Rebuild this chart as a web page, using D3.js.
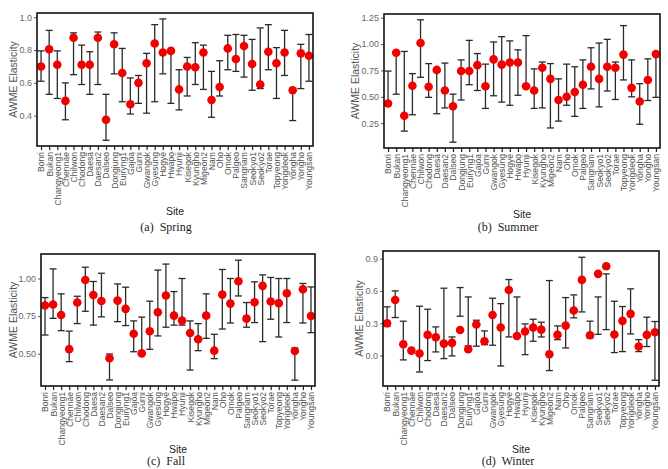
<!DOCTYPE html>
<html><head><meta charset="utf-8">
<script src="https://cdn.jsdelivr.net/npm/d3@7"></script>
<style>
html,body{margin:0;padding:0;background:#fff;}
svg{display:block;}
</style></head>
<body>
<script>
const sites = ["Bonri","Bukan","Changyeong1","Chennae","Chilwon","Chodong","Daesa","Daesan2","Dalseo","Dongjung","Euiryng1","Gajoa","Gumi","Gwangok","Gyesung","Hogye","Hwapo","Hyunji","Kisegok","Kyungho","Migeon2","Nam","Oho","Omok","Palgeo","Sangnam","Seokyo1","Seokyo2","Torae","Topyeong","Yongdeok","Yongha","Yongho","Youngsan"];

const springMean = [0.70,0.805,0.71,0.49,0.875,0.71,0.71,0.875,0.375,0.835,0.66,0.47,0.60,0.72,0.84,0.785,0.795,0.56,0.70,0.695,0.785,0.495,0.575,0.81,0.745,0.825,0.715,0.59,0.79,0.72,0.785,0.555,0.78,0.765];
const springHigh = [0.795,0.92,0.795,0.60,0.905,0.83,0.79,0.91,0.53,0.905,0.81,0.63,0.645,0.78,0.955,0.99,0.80,0.68,0.755,0.845,0.83,0.67,0.735,0.89,0.895,0.89,0.865,0.935,0.955,0.815,0.92,0.56,0.835,0.895];
const springLow  = [0.61,0.53,0.505,0.375,0.65,0.59,0.53,0.59,0.25,0.655,0.485,0.41,0.475,0.415,0.485,0.655,0.475,0.435,0.52,0.59,0.56,0.39,0.52,0.68,0.67,0.635,0.555,0.565,0.68,0.505,0.645,0.37,0.565,0.61];

const summerMean = [0.437,0.918,0.32,0.605,1.01,0.595,0.755,0.56,0.41,0.745,0.745,0.80,0.60,0.855,0.805,0.825,0.825,0.60,0.56,0.775,0.67,0.47,0.50,0.545,0.615,0.785,0.67,0.785,0.775,0.90,0.585,0.455,0.66,0.905];
const summerHigh = [0.744,0.925,0.93,0.72,1.23,0.815,0.76,0.82,0.525,0.85,1.035,0.91,0.81,1.02,1.07,1.03,0.945,1.08,0.765,0.83,0.815,0.67,0.81,0.785,0.85,0.965,1.01,1.045,0.83,1.175,0.85,0.625,0.86,0.925];
const summerLow  = [0.43,0.525,0.175,0.33,0.685,0.495,0.34,0.395,0.07,0.47,0.615,0.56,0.39,0.51,0.45,0.42,0.515,0.595,0.39,0.395,0.205,0.27,0.42,0.315,0.39,0.575,0.405,0.555,0.475,0.66,0.50,0.24,0.465,0.495];

const fallMean = [0.82,0.827,0.757,0.53,0.84,0.99,0.89,0.85,0.47,0.853,0.798,0.633,0.502,0.649,0.776,0.887,0.753,0.72,0.638,0.596,0.753,0.52,0.893,0.833,0.982,0.733,0.842,0.951,0.847,0.836,0.902,0.518,0.929,0.751];
const fallHigh = [0.873,1.064,0.898,0.65,0.882,1.075,0.98,1.035,0.498,0.964,0.942,0.718,0.743,0.849,1.056,1.096,0.913,1.0,0.718,0.70,0.898,0.629,1.06,1.0,1.122,0.84,0.978,1.024,1.007,1.0,1.0,0.538,0.967,0.944];
const fallLow  = [0.624,0.735,0.653,0.447,0.70,0.782,0.69,0.745,0.325,0.713,0.687,0.513,0.50,0.529,0.618,0.676,0.69,0.69,0.391,0.52,0.602,0.467,0.664,0.704,0.884,0.676,0.707,0.58,0.729,0.611,0.707,0.324,0.704,0.64];

const winterMean = [0.30,0.516,0.105,0.046,0.019,0.192,0.17,0.111,0.118,0.238,0.059,0.288,0.133,0.377,0.26,0.609,0.182,0.223,0.26,0.241,0.012,0.192,0.278,0.418,0.702,0.189,0.758,0.829,0.195,0.322,0.387,0.084,0.192,0.217];
const winterHigh = [0.452,0.60,0.319,0.065,0.458,0.43,0.266,0.625,0.173,0.631,0.544,0.328,0.229,0.532,0.482,0.705,0.544,0.294,0.337,0.309,0.696,0.275,0.538,0.563,0.912,0.319,0.544,0.758,0.504,0.455,0.619,0.148,0.356,0.316];
const winterLow  = [0.27,0.353,-0.04,0.028,-0.152,-0.046,0.034,-0.028,-0.003,0.365,0.09,0.087,0.102,0.096,-0.096,0.173,0.18,0.009,0.133,0.173,-0.139,0.148,0.071,0.35,0.405,0.164,0.198,0.241,0.028,0.037,0.201,0.037,0.084,-0.229];

const springTicks = [0.4,0.6,0.8,1.0];
const springTickLabels = ["0.4","0.6","0.8","1.0"];
const summerTicks = [0.25,0.5,0.75,1.0,1.25];
const summerTickLabels = ["0.25","0.50","0.75","1.00","1.25"];
const fallTicks = [0.5,0.75,1.0];
const fallTickLabels = ["0.50","0.75","1.00"];
const winterTicks = [0.0,0.3,0.6,0.9];
const winterTickLabels = ["0.0","0.3","0.6","0.9"];

const captions = ["(a)  Spring","(b)  Summer","(c)  Fall","(d)  Winter"];

const W = 668, H = 469;
const svg = d3.select("body").append("svg").attr("width", W).attr("height", H);

const panels = [
  {mean:springMean, low:springLow, high:springHigh, ticks:springTicks, tl:springTickLabels, dom:[0.215,1.026],
   box:{x0:37,x1:313,y0:13,y1:146}, ylabX:13.5, siteY:215, capX:166, capY:231, cap:captions[0]},
  {mean:summerMean, low:summerLow, high:summerHigh, ticks:summerTicks, tl:summerTickLabels, dom:[0.015,1.285],
   box:{x0:384,x1:660,y0:14,y1:148}, ylabX:355, siteY:218, capX:508, capY:231, cap:captions[1]},
  {mean:fallMean, low:fallLow, high:fallHigh, ticks:fallTicks, tl:fallTickLabels, dom:[0.285,1.163],
   box:{x0:41,x1:315,y0:254,y1:386}, ylabX:13, siteY:453, capX:166, capY:465, cap:captions[2]},
  {mean:winterMean, low:winterLow, high:winterHigh, ticks:winterTicks, tl:winterTickLabels, dom:[-0.282,0.970],
   box:{x0:383,x1:659,y0:251,y1:386}, ylabX:359.5, siteY:453, capX:508, capY:465, cap:captions[3]}
];

const sans = "'Liberation Sans', Arial, sans-serif";
const serif = "'Liberation Serif', 'Times New Roman', serif";

panels.forEach(p => {
  const b = p.box;
  const x = d3.scalePoint().domain(sites).range([b.x0, b.x1]).padding(0.5);
  const y = d3.scaleLinear().domain(p.dom).range([b.y1, b.y0]);
  const g = svg.append("g");

  // y axis
  const yAxis = d3.axisLeft(y).tickValues(p.ticks).tickSize(3).tickPadding(2)
    .tickFormat((d,i) => p.tl[i]);
  const ya = g.append("g").attr("transform", `translate(${b.x0},0)`).call(yAxis);
  ya.select(".domain").remove();
  ya.selectAll("line").attr("stroke", "#555");
  ya.selectAll("text").attr("fill", "#666").style("font-family", sans).style("font-size", "9px");

  // x axis
  const xAxis = d3.axisBottom(x).tickSize(4).tickPadding(2);
  const xa = g.append("g").attr("transform", `translate(0,${b.y1})`).call(xAxis);
  xa.select(".domain").remove();
  xa.selectAll("line").attr("stroke", "#222").attr("stroke-width", 1.2);
  xa.selectAll("text")
    .attr("fill", "#555")
    .style("font-family", sans).style("font-size", "8.6px")
    .attr("text-anchor", "end")
    .attr("transform", "rotate(-90)")
    .attr("x", -6).attr("y", 0).attr("dy", "0.34em");

  // error bars
  const bars = g.append("g").attr("stroke", "#2a2a2a").attr("stroke-width", 1.3);
  sites.forEach((s, i) => {
    const cx = x(s);
    bars.append("line").attr("x1", cx).attr("x2", cx).attr("y1", y(p.low[i])).attr("y2", y(p.high[i]));
    bars.append("line").attr("x1", cx-3.5).attr("x2", cx+3.5).attr("y1", y(p.low[i])).attr("y2", y(p.low[i]));
    bars.append("line").attr("x1", cx-3.5).attr("x2", cx+3.5).attr("y1", y(p.high[i])).attr("y2", y(p.high[i]));
  });

  // points
  g.append("g").selectAll("circle").data(sites).join("circle")
    .attr("cx", d => x(d)).attr("cy", (d,i) => y(p.mean[i])).attr("r", 4.3)
    .attr("fill", "#f20000");

  // box
  g.append("rect").attr("x", b.x0).attr("y", b.y0).attr("width", b.x1-b.x0).attr("height", b.y1-b.y0)
    .attr("fill", "none").attr("stroke", "#111").attr("stroke-width", 1.6);

  // y title
  g.append("text").attr("transform", `translate(${p.ylabX},${(b.y0+b.y1)/2}) rotate(-90)`)
    .attr("text-anchor", "middle").attr("dy", "0.35em")
    .attr("fill", "#555").style("font-family", sans).style("font-size", "10.5px")
    .text("AWME Elasticity");

  // x title
  g.append("text").attr("x", (b.x0+b.x1)/2).attr("y", p.siteY)
    .attr("text-anchor", "middle").attr("fill", "#222")
    .style("font-family", sans).style("font-size", "10.5px").text("Site");

  // caption
  g.append("text").attr("x", p.capX).attr("y", p.capY)
    .attr("text-anchor", "middle").attr("fill", "#222")
    .style("font-family", serif).style("font-size", "12px").style("white-space", "pre")
    .text(p.cap);
});
</script>
</body></html>
